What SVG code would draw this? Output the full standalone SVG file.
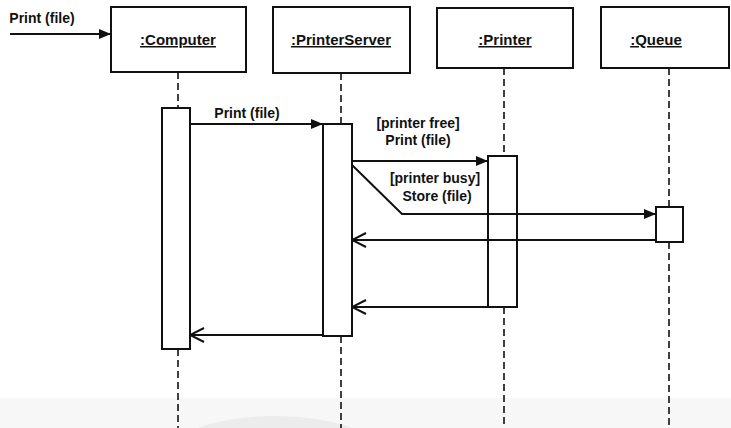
<svg xmlns="http://www.w3.org/2000/svg" width="731" height="428" viewBox="0 0 731 428">
<defs>
<style>
.box{fill:#fff;stroke:#111;stroke-width:2}
.act{fill:#fff;stroke:#111;stroke-width:2}
.life{stroke:#111;stroke-width:1.6;stroke-dasharray:7 4;fill:none}
.msg{stroke:#111;stroke-width:2;fill:none}
.lbl{font-family:"Liberation Sans",Arial,sans-serif;font-weight:bold;font-size:15px;fill:#111;text-anchor:middle;text-decoration:underline}
.txt{font-family:"Liberation Sans",Arial,sans-serif;font-weight:bold;font-size:14px;fill:#111;text-anchor:middle}
</style>
<marker id="filled" markerUnits="userSpaceOnUse" markerWidth="12" markerHeight="10" refX="12" refY="5" orient="auto">
<path d="M0,0 L12,5 L0,10 z" fill="#111"/>
</marker>
<marker id="open" markerUnits="userSpaceOnUse" markerWidth="16" markerHeight="16" refX="15" refY="8" orient="auto">
<path d="M1,1 L15,8 L1,15" fill="none" stroke="#111" stroke-width="2"/>
</marker>
</defs>
<rect width="731" height="428" fill="#fff"/>
<rect x="0" y="398" width="731" height="30" fill="#f7f7f7"/>
<ellipse cx="275" cy="462" rx="115" ry="46" fill="#ececec"/>

<g id="lifelines">
<line class="life" x1="178" y1="72" x2="178" y2="108"/>
<line class="life" x1="178" y1="349" x2="178" y2="428"/>
<line class="life" x1="341" y1="73" x2="341" y2="124"/>
<line class="life" x1="341" y1="336" x2="341" y2="428"/>
<line class="life" x1="504" y1="68" x2="504" y2="156"/>
<line class="life" x1="504" y1="307" x2="504" y2="428"/>
<line class="life" x1="669" y1="68" x2="669" y2="207"/>
<line class="life" x1="669" y1="242" x2="669" y2="428"/>
</g>

<g id="computer">
<rect class="box" x="111" y="7" width="135" height="65"/>
<text class="lbl" x="178" y="45">:Computer</text>
<rect class="act" x="162" y="108" width="28" height="241"/>
</g>
<g id="printerserver">
<rect class="box" x="273" y="7" width="137" height="66"/>
<text class="lbl" x="341" y="45">:PrinterServer</text>
<rect class="act" x="323" y="124" width="29" height="212"/>
</g>
<g id="printer">
<rect class="box" x="437" y="8" width="136" height="60"/>
<text class="lbl" x="505" y="45">:Printer</text>
<rect class="act" x="488" y="156" width="29" height="151"/>
</g>
<g id="queue">
<rect class="box" x="601" y="7" width="128" height="61"/>
<text class="lbl" x="656" y="45">:Queue</text>
<rect class="act" x="656" y="207" width="27" height="35"/>
</g>

<g id="connectors">
<line class="msg" x1="10" y1="34" x2="111" y2="34" marker-end="url(#filled)"/>
<text class="txt" x="42" y="23">Print (file)</text>
<line class="msg" x1="190" y1="124" x2="323" y2="124" marker-end="url(#filled)"/>
<text class="txt" x="247" y="118">Print (file)</text>
<line class="msg" x1="352" y1="161" x2="488" y2="161" marker-end="url(#filled)"/>
<text class="txt" x="418" y="128">[printer free]</text>
<text class="txt" x="418" y="145">Print (file)</text>
<polyline class="msg" points="352,165 402,214 656,214" marker-end="url(#filled)"/>
<text class="txt" x="435" y="183">[printer busy]</text>
<text class="txt" x="437" y="201">Store (file)</text>
<line class="msg" x1="656" y1="240" x2="352" y2="240" marker-end="url(#open)"/>
<line class="msg" x1="488" y1="307" x2="352" y2="307" marker-end="url(#open)"/>
<line class="msg" x1="323" y1="335" x2="190" y2="335" marker-end="url(#open)"/>
</g>
</svg>
